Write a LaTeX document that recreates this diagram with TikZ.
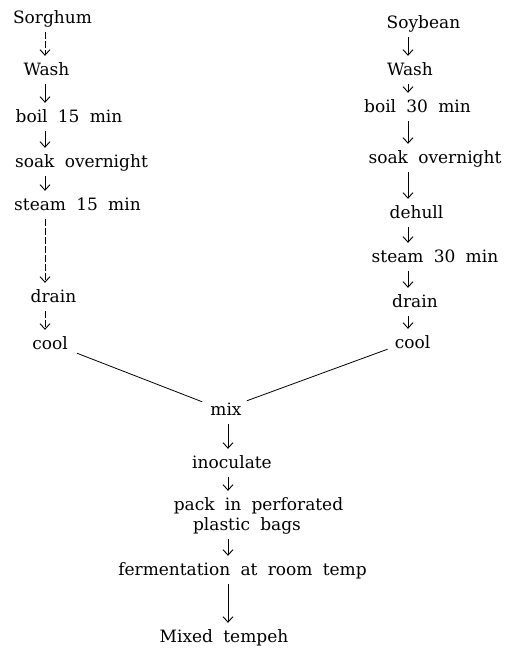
\documentclass[tikz,border=0pt]{standalone}
\usepackage{fontspec}
\setmainfont[WordSpace=1.9]{DejaVu Serif}
\usetikzlibrary{arrows.meta}
\begin{document}
\begin{tikzpicture}[x=1pt,y=-1pt,
  lbl/.style={anchor=base,inner sep=0pt,text height=12pt,text depth=4pt,font=\fontsize{17}{20}\selectfont},
  arr/.style={-{Straight Barb[length=5.5pt,width=10pt,line width=0.9pt]},line width=0.8pt,shorten <=5pt,shorten >=7pt},
  broken/.style={dash pattern=on 7pt off 2pt},
  link/.style={line width=0.8pt}]
\useasboundingbox (0,0) rectangle (511,659);
\coordinate (cl) at (45,0);
\coordinate (cr) at (408,0);
\coordinate (cc) at (228,0);
% left column
\node[lbl] (s1) at (52.5,23) {Sorghum};
\node[lbl] (s2) at (46.5,75) {Wash};
\node[lbl] (s3) at (69,122) {boil 15 min};
\node[lbl] (s4) at (81.5,167) {soak overnight};
\node[lbl] (s5) at (77.5,210) {steam 15 min};
\node[lbl] (s6) at (53.5,302) {drain};
\node[lbl] (s7) at (50,349) {cool};
% right column
\node[lbl] (b1) at (423.5,28) {Soybean};
\node[lbl] (b2) at (410,75) {Wash};
\node[lbl] (b3) at (417.5,112) {boil 30 min};
\node[lbl] (b4) at (435,163) {soak overnight};
\node[lbl] (b5) at (416.5,218) {dehull};
\node[lbl] (b6) at (435,262) {steam 30 min};
\node[lbl] (b7) at (415,307) {drain};
\node[lbl] (b8) at (412.5,348) {cool};
% centre
\node[lbl] (m1) at (226,415) {mix};
\node[lbl] (m2) at (232,468) {inoculate};
\node[lbl] (m3) at (258.5,510) {pack in perforated};
\node[lbl] (m4) at (247,530) {plastic bags};
\node[lbl] (m5) at (242.5,575) {fermentation at room temp};
\node[lbl] (m6) at (224,642) {Mixed tempeh};
% left arrows
\draw[arr,broken] (s1.south -| cl) -- (s2.north -| cl);
\draw[arr] (s2.south -| cl) -- (s3.north -| cl);
\draw[arr] (s3.south -| cl) -- (s4.north -| cl);
\draw[arr] (s4.south -| cl) -- (s5.north -| cl);
\draw[arr,broken] (s5.south -| cl) -- (s6.north -| cl);
\draw[arr,broken] (s6.south -| cl) -- (s7.north -| cl);
% right arrows
\draw[arr] (b1.south -| cr) -- (b2.north -| cr);
\draw[arr] (b2.south -| cr) -- (b3.north -| cr);
\draw[arr] (b3.south -| cr) -- (b4.north -| cr);
\draw[arr] (b4.south -| cr) -- (b5.north -| cr);
\draw[arr] (b5.south -| cr) -- (b6.north -| cr);
\draw[arr] (b6.south -| cr) -- (b7.north -| cr);
\draw[arr] (b7.south -| cr) -- (b8.north -| cr);
% merge lines
\draw[link] ([xshift=9pt]s7.south east) -- ([xshift=-8pt,yshift=1pt]m1.north west);
\draw[link] ([xshift=-7pt,yshift=3pt]b8.south west) -- ([xshift=5pt,yshift=2pt]m1.north east);
% centre arrows
\draw[arr] (m1.south -| cc) -- (m2.north -| cc);
\draw[arr] (m2.south -| cc) -- (m3.north -| cc);
\draw[arr] (m4.south -| cc) -- (m5.north -| cc);
\draw[arr] (m5.south -| cc) -- (m6.north -| cc);
\end{tikzpicture}
\end{document}
